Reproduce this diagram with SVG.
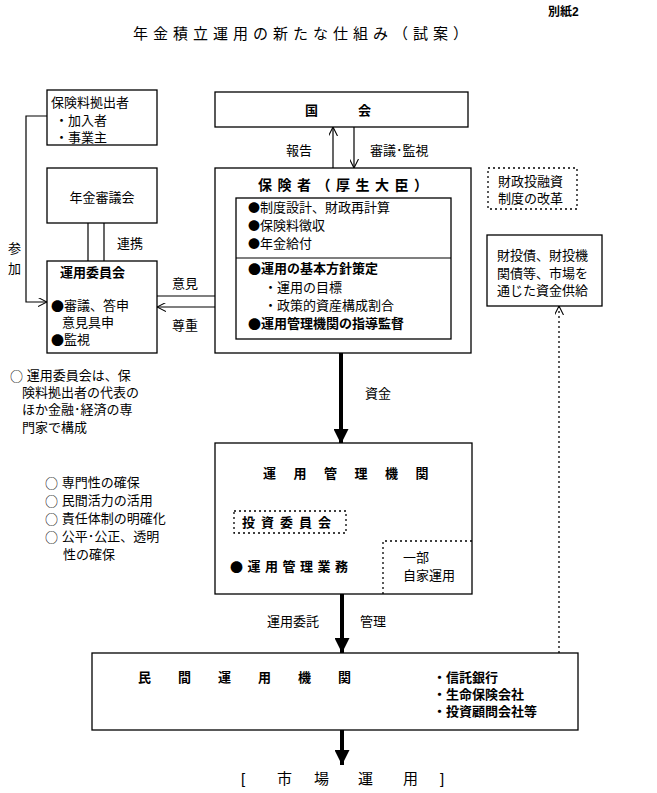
<svg xmlns="http://www.w3.org/2000/svg" width="657" height="793" viewBox="0 0 657 793">
<style>
text{font-family:"Liberation Sans","Noto Sans CJK JP","Noto Sans CJK SC",sans-serif;font-size:13px;fill:#000;dominant-baseline:central}
.b{font-weight:bold}
.cj{font-family:"Noto Sans CJK JP","Noto Sans CJK SC",sans-serif}
.sm{font-size:12px}
.box{fill:#fff;stroke:#000;stroke-width:1.3}
.dot{fill:none;stroke:#000;stroke-width:1.3;stroke-dasharray:2,3}
.ln{fill:none;stroke:#000;stroke-width:1.2}
.thick{fill:none;stroke:#000;stroke-width:4}
</style>
<defs>
<marker id="open" viewBox="0 0 10 10" refX="10" refY="5" markerWidth="9" markerHeight="9" markerUnits="userSpaceOnUse" orient="auto">
<path d="M0,0 L10,5 L0,10" fill="none" stroke="#000" stroke-width="1.2"/>
</marker>
<marker id="fill" viewBox="0 0 10 10" refX="10" refY="5" markerWidth="16" markerHeight="15" markerUnits="userSpaceOnUse" orient="auto">
<path d="M0,0 L10,5 L0,10 Z" fill="#000"/>
</marker>
</defs>
<rect width="657" height="793" fill="#fff"/>

<g id="header">
<text x="548" y="12" class="b" style="font-size:12px">別紙2</text>
<text x="133" y="33" style="font-size:15px;letter-spacing:5px">年金積立運用の新たな仕組み（試案）</text>
</g>

<g id="connectors">
<polyline class="ln" points="47,116 26,116 26,302 47,302" marker-end="url(#open)"/>
<line class="ln" x1="88" y1="223" x2="88" y2="261"/>
<line class="ln" x1="104" y1="223" x2="104" y2="261"/>
<line class="ln" x1="157" y1="296" x2="236" y2="296" marker-end="url(#open)"/>
<line class="ln" x1="236" y1="307" x2="157" y2="307" marker-end="url(#open)"/>
<line class="ln" x1="333" y1="168" x2="333" y2="127" marker-end="url(#open)"/>
<line class="ln" x1="354" y1="127" x2="354" y2="168" marker-end="url(#open)"/>
<line class="dot" x1="559" y1="653" x2="559" y2="306" marker-end="url(#open)"/>
<line class="thick" x1="341" y1="353" x2="341" y2="444" marker-end="url(#fill)"/>
<line class="thick" x1="342" y1="594" x2="342" y2="653" marker-end="url(#fill)"/>
<line class="thick" x1="342" y1="730" x2="342" y2="765" marker-end="url(#fill)"/>
<text x="8" y="248">参</text>
<text x="8" y="268">加</text>
<text x="117" y="243">連携</text>
<text x="172" y="283">意見</text>
<text x="172" y="325">尊重</text>
<text x="286" y="150">報告</text>
<text x="370" y="150">審議･監視</text>
<text x="365" y="393">資金</text>
<text x="267" y="621">運用委託</text>
<text x="360" y="621">管理</text>
</g>

<g id="node-kyoshutsusha">
<rect class="box" x="47" y="90" width="110" height="55"/>
<text x="51" y="102">保険料拠出者</text>
<text x="55" y="120">・加入者</text>
<text x="55" y="137">・事業主</text>
</g>

<g id="node-shingikai">
<rect class="box" x="47" y="168" width="110" height="55"/>
<text x="102" y="197" text-anchor="middle">年金審議会</text>
</g>

<g id="node-unyoiinkai">
<rect class="box" x="47" y="261" width="110" height="92"/>
<text x="60" y="272" class="b">運用委員会</text>
<text x="51" y="305"><tspan class="cj">●</tspan>審議、答申</text>
<text x="62" y="322">意見具申</text>
<text x="51" y="339"><tspan class="cj">●</tspan>監視</text>
</g>

<g id="note-left">
<text x="10" y="375"><tspan class="cj">○</tspan> 運用委員会は、保</text>
<text x="22" y="392">険料拠出者の代表の</text>
<text x="22" y="409">ほか金融･経済の専</text>
<text x="22" y="427">門家で構成</text>
<text x="45" y="482"><tspan class="cj">○</tspan> 専門性の確保</text>
<text x="45" y="500"><tspan class="cj">○</tspan> 民間活力の活用</text>
<text x="45" y="518"><tspan class="cj">○</tspan> 責任体制の明確化</text>
<text x="45" y="536"><tspan class="cj">○</tspan> 公平･公正、透明</text>
<text x="63" y="554">性の確保</text>
</g>

<g id="node-kokkai">
<rect class="box" x="215" y="92" width="253" height="35"/>
<text x="305" y="110" class="b">国</text>
<text x="358" y="110" class="b">会</text>
</g>

<g id="node-hokensha">
<rect class="box" x="215" y="168" width="256" height="185"/>
<text x="258" y="185" class="b" style="font-size:14px;letter-spacing:5.5px">保険者（厚生大臣）</text>
<rect class="box" x="236" y="198" width="215" height="141"/>
<line class="ln" x1="236" y1="258" x2="451" y2="258"/>
<text x="248" y="207"><tspan class="cj sm">●</tspan>制度設計、財政再計算</text>
<text x="248" y="225"><tspan class="cj sm">●</tspan>保険料徴収</text>
<text x="248" y="243"><tspan class="cj sm">●</tspan>年金給付</text>
<text x="248" y="268" class="b"><tspan class="cj">●</tspan>運用の基本方針策定</text>
<text x="264" y="287">・運用の目標</text>
<text x="264" y="305">・政策的資産構成割合</text>
<text x="248" y="323" class="b"><tspan class="cj">●</tspan>運用管理機関の指導監督</text>
</g>

<g id="node-zaito-kaikaku">
<rect class="dot" x="488" y="168" width="89" height="41"/>
<text x="498" y="181">財政投融資</text>
<text x="498" y="198">制度の改革</text>
</g>

<g id="node-zaitosai">
<rect class="box" x="487" y="235" width="115" height="71"/>
<text x="497" y="255">財投債、財投機</text>
<text x="497" y="273">関債等、市場を</text>
<text x="497" y="290">通じた資金供給</text>
</g>

<g id="node-kanrikikan">
<rect class="box" x="215" y="443" width="257" height="151"/>
<text x="263" y="473" class="b" style="letter-spacing:17.5px">運用管理機関</text>
<rect class="dot" x="234" y="511" width="112" height="22"/>
<text x="242" y="522" class="b" style="letter-spacing:6px">投資委員会</text>
<text x="230" y="566" class="b" style="letter-spacing:4.5px"><tspan class="cj">●</tspan>運用管理業務</text>
<polyline class="dot" points="383,594 383,541 472,541"/>
<text x="403" y="557">一部</text>
<text x="403" y="575">自家運用</text>
</g>

<g id="node-minkan">
<rect class="box" x="92" y="653" width="486" height="77"/>
<text x="138" y="677" class="b" style="letter-spacing:27px">民間運用機関</text>
<text x="433" y="677" class="b">・信託銀行</text>
<text x="433" y="694" class="b">・生命保険会社</text>
<text x="433" y="711" class="b">・投資顧問会社等</text>
</g>

<g id="market">
<text x="241" y="778" style="font-size:15px">[</text>
<text x="277" y="778" style="font-size:15px">市</text>
<text x="314" y="778" style="font-size:15px">場</text>
<text x="358" y="778" style="font-size:15px">運</text>
<text x="403" y="778" style="font-size:15px">用</text>
<text x="440" y="778" style="font-size:15px">]</text>
</g>
</svg>
